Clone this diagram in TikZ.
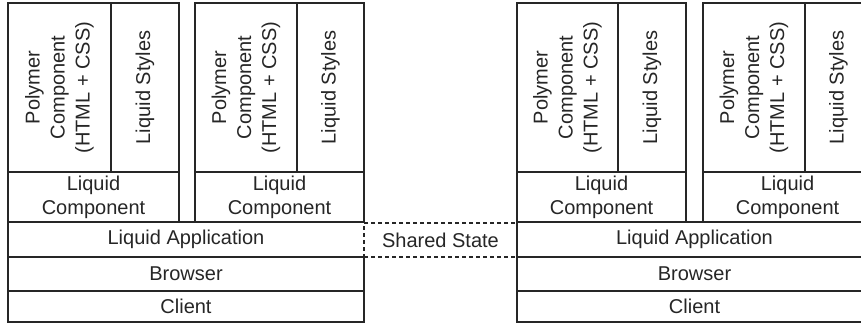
\documentclass[tikz,border=0pt]{standalone}
\usepackage{fontspec}
\setmainfont{Liberation Sans}
\begin{document}
\begin{tikzpicture}[x=1pt,y=-1pt,
  ln/.style={draw=black!85,line width=1.3pt},
  cell/.style={ln,inner sep=0pt,outer sep=0pt,font=\fontsize{20}{25}\selectfont,text=black!85,align=center},
  vcell/.style={cell,rotate=90},
  shared/.style={cell,draw=black!85,dash pattern=on 4pt off 3pt},
  plain/.style={inner sep=0pt,outer sep=0pt,font=\fontsize{20}{25}\selectfont,text=black!85}]
\fill[white] (0,0) rectangle (861,324);
\useasboundingbox (0,0) rectangle (861,324);
% left stack components
\node[vcell,minimum width=169pt,minimum height=103pt] (p1) at (59.5,87.5) {Polymer\\Component\\(HTML + CSS)};
\node[vcell,minimum width=169pt,minimum height=68pt] (s1) at (145,87.5) {Liquid Styles};
\node[cell,minimum width=171pt,minimum height=50pt,font=\fontsize{20}{24}\selectfont] (lc1) at (93.5,197) {Liquid\\Component};
\node[vcell,minimum width=169pt,minimum height=102pt] (p2) at (246,87.5) {Polymer\\Component\\(HTML + CSS)};
\node[vcell,minimum width=169pt,minimum height=67pt] (s2) at (330.5,87.5) {Liquid Styles};
\node[cell,minimum width=169pt,minimum height=50pt,font=\fontsize{20}{24}\selectfont] (lc2) at (279.5,197) {Liquid\\Component};
% shared state
\node[shared,minimum width=153pt,minimum height=34pt] (sh) at (440.5,240) {Shared State};
% left stack layers
\node[plain,minimum width=356pt,minimum height=35pt] (app1) at (186,239.5) {Liquid Application};
\draw[ln] (app1.north east) -- (app1.north west) -- (app1.south west) -- (app1.south east);
\node[cell,minimum width=356pt,minimum height=34pt] (br1) at (186,274) {Browser};
\node[cell,minimum width=356pt,minimum height=31pt] (cl1) at (186,306.5) {Client};
% right stack components
\node[vcell,minimum width=169pt,minimum height=101pt] (p3) at (567.5,87.5) {Polymer\\Component\\(HTML + CSS)};
\node[vcell,minimum width=169pt,minimum height=68pt] (s3) at (652,87.5) {Liquid Styles};
\node[cell,minimum width=169pt,minimum height=50pt,font=\fontsize{20}{24}\selectfont] (lc3) at (601.5,197) {Liquid\\Component};
\node[vcell,minimum width=169pt,minimum height=102pt] (p4) at (754,87.5) {Polymer\\Component\\(HTML + CSS)};
\node[vcell,minimum width=169pt,minimum height=67pt] (s4) at (838.5,87.5) {Liquid Styles};
\node[cell,minimum width=169pt,minimum height=50pt,font=\fontsize{20}{24}\selectfont] (lc4) at (787.5,197) {Liquid\\Component};
% right stack layers
\node[cell,minimum width=355pt,minimum height=35pt] (app2) at (694.5,239.5) {Liquid Application};
\node[cell,minimum width=355pt,minimum height=34pt] (br2) at (694.5,274) {Browser};
\node[cell,minimum width=355pt,minimum height=31pt] (cl2) at (694.5,306.5) {Client};
\end{tikzpicture}
\end{document}
